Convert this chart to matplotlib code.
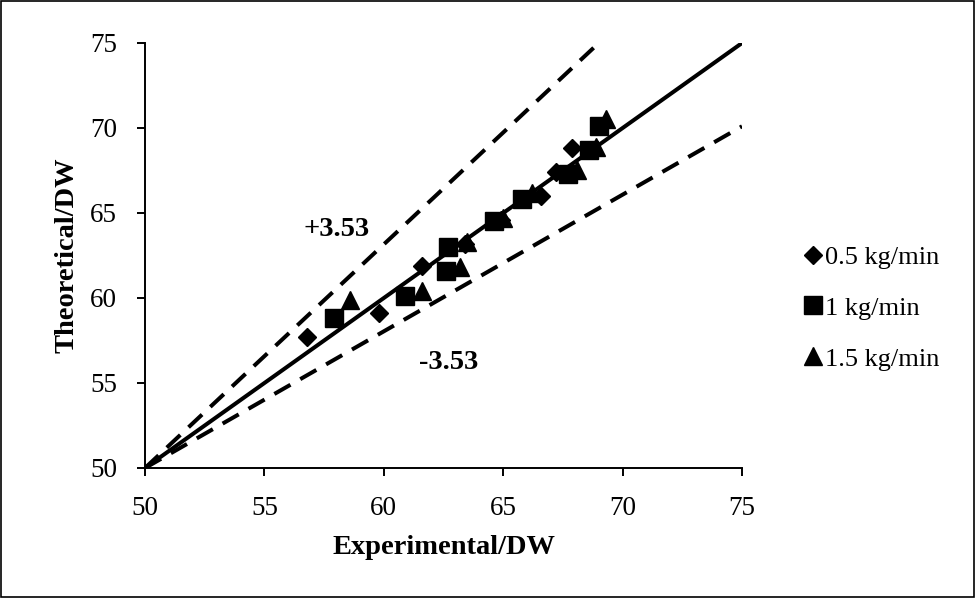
import matplotlib.pyplot as plt
from matplotlib.patches import Rectangle

plt.rcParams['font.family'] = ['Liberation Serif', 'DejaVu Serif']

# data
x_05 = [56.8, 59.8, 61.6, 63.4, 64.9, 66.6, 67.2, 67.9]
y_05 = [57.7, 59.1, 61.9, 63.2, 64.6, 66.0, 67.4, 68.8]

x_10 = [57.9, 60.9, 62.6, 62.7, 64.6, 65.8, 67.7, 68.6, 69.0]
y_10 = [58.8, 60.1, 61.6, 63.0, 64.5, 65.8, 67.3, 68.7, 70.1]

x_15 = [58.6, 61.6, 63.2, 63.5, 65.0, 66.2, 68.1, 68.9, 69.3]
y_15 = [59.9, 60.4, 61.8, 63.3, 64.7, 66.2, 67.5, 68.9, 70.5]

labels = ['0.5 kg/min', '1 kg/min', '1.5 kg/min']

# reference lines
ideal_x = [50, 75]
ideal_y = [50, 75]
upper_x = [50, 69.0]
upper_y = [50, 75.0]
lower_x = [50, 75]
lower_y = [50, 70.1]

fig = plt.figure(figsize=(9.76, 5.98), dpi=100)
ax = fig.add_axes([0.1486, 0.2174, 0.6117, 0.7107])

ax.plot(ideal_x, ideal_y, color='black', linewidth=2.9, zorder=2)
ax.plot(upper_x, upper_y, color='black', linewidth=2.9, dashes=(4.6, 2.8), zorder=2)
ax.plot(lower_x, lower_y, color='black', linewidth=2.9, dashes=(4.6, 2.8), zorder=2)

ax.plot(x_05, y_05, 'D', color='black', markersize=9.5, linestyle='none', label=labels[0], zorder=3)
ax.plot(x_10, y_10, 's', color='black', markersize=12.5, linestyle='none', label=labels[1], zorder=3)
ax.plot(x_15, y_15, '^', color='black', markersize=12.5, linestyle='none', label=labels[2], zorder=3)

ax.text(58.0, 64.0, '+3.53', fontsize=20.5, fontweight='bold', ha='center', va='center')
ax.text(62.7, 56.2, '-3.53', fontsize=20.5, fontweight='bold', ha='center', va='center')

ax.set_xlim(50, 75)
ax.set_ylim(50, 75)
ax.set_xticks(range(50, 76, 5))
ax.set_yticks(range(50, 76, 5))
ax.tick_params(labelsize=19.5, length=6, width=1.4, direction='out', colors='black')
ax.tick_params(axis='x', pad=14)
ax.tick_params(axis='y', pad=14)
for side in ['top', 'right']:
    ax.spines[side].set_visible(False)
for side in ['left', 'bottom']:
    ax.spines[side].set_linewidth(1.4)

ax.set_xlabel('Experimental/DW', fontsize=20.5, fontweight='bold', labelpad=10)
ax.set_ylabel('Theoretical/DW', fontsize=20.5, fontweight='bold', labelpad=8)

fig.legend(loc='center left', bbox_to_anchor=(0.813, 0.485), frameon=False,
           fontsize=19, handlelength=0.7, handletextpad=0.1, labelspacing=1.04,
           borderaxespad=0)

# outer border of the figure
fig.patches.append(Rectangle((0.001, 0.002), 0.997, 0.996, transform=fig.transFigure,
                             fill=False, edgecolor='black', linewidth=1.2))

fig.savefig('out.png', dpi=100)
